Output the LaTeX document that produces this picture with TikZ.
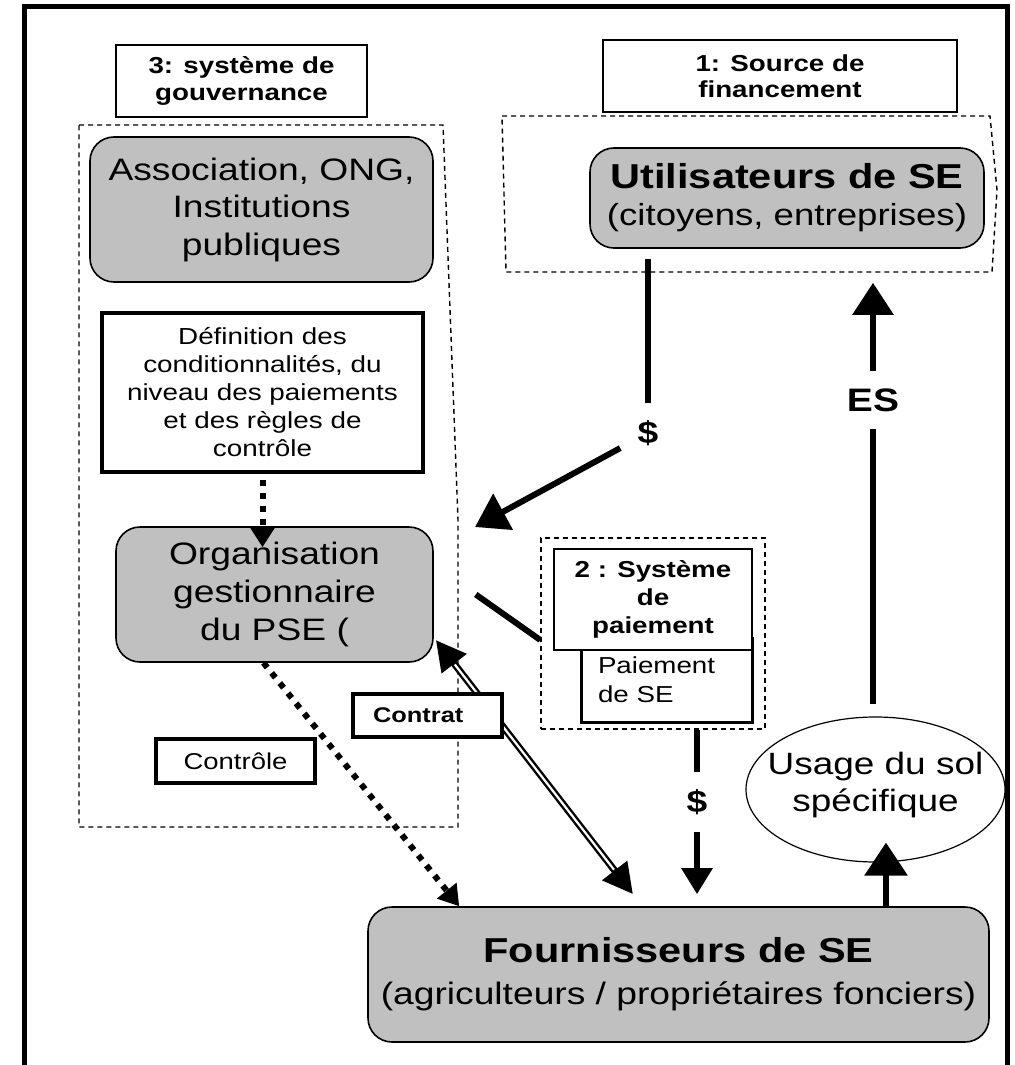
\documentclass[tikz,border=0pt]{standalone}
\usepackage{fontspec}
\setmainfont{Liberation Sans}[FakeStretch=1.2]
\usetikzlibrary{arrows.meta,shapes.geometric,calc}
\definecolor{boxgray}{RGB}{192,192,192}
\newcommand{\fsz}[2]{\fontsize{#1pt}{#2pt}\selectfont}

\begin{document}
\begin{tikzpicture}[x=0.5pt, y=-0.5pt,
    graybox/.style={draw, fill=boxgray, rounded corners=12pt, line width=0.8pt, align=center},
    titlebox/.style={draw, fill=white, line width=0.7pt, align=center, font=\bfseries\fsz{11.55}{13.25}},
    notebox/.style={draw, fill=white, line width=2pt, align=center},
    zone/.style={draw, line width=0.7pt, dash pattern=on 2.5pt off 2pt},
    flow/.style={line width=3pt},
    dots/.style={line width=3pt, dash pattern=on 3pt off 3.5pt},
    money/.style={font=\bfseries\fsz{15.5}{18}, inner sep=8.5pt},
    bigtip/.style={-{Triangle[length=16pt,width=20pt]}},
    dottip/.style={-{Triangle[length=10pt,width=12pt]}}]

    \useasboundingbox (0,0) rectangle (1015,1065);
    \draw[line width=2.5pt] (24,1065) -- (24,7) -- (1007,7) -- (1007,1065);

    % dashed zones
    \draw[zone] (79,125) -- (443,125) -- (458,520) -- (458,827) -- (79,827) -- cycle;
    \draw[zone] (502,116) -- (990,116) -- (997,190) -- (992,272) -- (506,272) -- cycle;
    \node[zone, minimum width=112pt, minimum height=95.5pt] (pay) at (653,633.5) {};

    \node[titlebox, minimum width=125.5pt, minimum height=36pt] (govtitle) at (241.5,81) {3: système de\\gouvernance};
    \node[titlebox, minimum width=177pt, minimum height=36pt] (srctitle) at (780,76) {1: Source de\\financement};

    \node[graybox, minimum width=171.5pt, minimum height=72.5pt, font=\fsz{15.5}{18.75}] (assoc) at (261.5,209.5) {Association, ONG,\\Institutions\\publiques};
    \node[graybox, minimum width=197pt, minimum height=50pt, font=\fsz{15.25}{18.5}] (util) at (787,198) {{\bfseries\fsz{17.3}{18.5}Utilisateurs de SE}\\(citoyens, entreprises)};
    \node[notebox, minimum width=160.5pt, minimum height=79.5pt, font=\fsz{11.6}{14}] (def) at (262.5,392.5) {Définition des\\conditionnalités, du\\niveau des paiements\\et des règles de\\contrôle};
    \node[graybox, minimum width=158.5pt, minimum height=67.5pt, font=\fsz{15.5}{19}] (org) at (274.5,594.5) {Organisation\\gestionnaire\\du PSE (};
    \node[notebox, minimum width=79.5pt, minimum height=22pt, font=\fsz{11.45}{13}] (ctrl) at (235.5,761) {Contrôle};

    \node[draw, fill=white, line width=1.5pt, text width=68.5pt, inner xsep=8.5pt, minimum height=42pt, align=left, font=\fsz{11.55}{14.5}] (paybox) at (666.5,680) {Paiement\\de SE};
    \node[titlebox, line width=1pt, minimum width=99pt, minimum height=50.5pt, font=\bfseries\fsz{11.55}{14}] (paytitle) at (653,599.5) {2 : Système\\de\\paiement};

    \node[graybox, minimum width=310.5pt, minimum height=67.5pt, font=\fsz{15.5}{21}] (four) at (678.5,974.5) {{\bfseries\fsz{17.3}{21}Fournisseurs de SE}\\(agriculteurs / propriétaires fonciers)};
    \node[draw, ellipse, line width=0.6pt, minimum width=129.5pt, minimum height=72.5pt,
          label={[yshift=2pt, align=center, font=\fsz{15.4}{18.5}]center:Usage du sol\\spécifique}] (use) at (875.5,789.5) {};

    \node[money] (dollarA) at (648,433) {\$};
    \node[money] (dollarB) at (697,802) {\$};
    \node[money, font=\bfseries\fsz{16.25}{18}] (es) at (873,400) {ES};
    \coordinate (govin) at (475,527);
    \coordinate (ca) at ($(org.east)+(2,45.5)$);
    \coordinate (cb) at ($(four.north)+(-45.5,-12)$);

    \draw[flow, shorten <=5pt] (util.south -| dollarA) -- (dollarA);
    \draw[flow, bigtip] (dollarA) -- (govin);
    \draw[flow, bigtip, shorten >=17pt] (es) -- (util.south -| es);
    \draw[flow, shorten >=6pt] (es) -- (use.north -| es);
    \draw[flow] (pay.south -| dollarB) -- (dollarB);
    \draw[flow, -{Triangle[length=13pt,width=15pt]}, shorten >=6pt] (dollarB) -- (four.north -| dollarB);
    \draw[flow, -{Triangle[length=16.5pt,width=21pt]}] ($(four.north -| use.south)+(10.5,0)$) -- ($(use.south)+(10.5,-20)$);
    \draw[flow] ($(org.east)+(42,0)$) -- ($(pay.west)+(0,6.5)$);

    \draw[dots, dottip, shorten <=3pt] (def) -- ($(def.south |- org.north)+(0,21)$);
    \draw[dots, dottip] ($(org.south)+(-11,0)$) -- ($(four.north west)+(92,0)$);

    \draw[line width=3.5pt, {Triangle[length=15pt,width=15pt]}-{Triangle[length=15pt,width=15pt]}] (ca) -- (cb);
    \draw[white, line width=1.1pt, shorten <=15.5pt, shorten >=15.5pt] (ca) -- (cb);
    \node[notebox, line width=2.4pt, text width=54.5pt, inner xsep=10pt, minimum height=21.5pt, align=left, font=\bfseries\fsz{10.6}{12}] (contrat) at (427.5,715.5) {Contrat};
\end{tikzpicture}
\end{document}
